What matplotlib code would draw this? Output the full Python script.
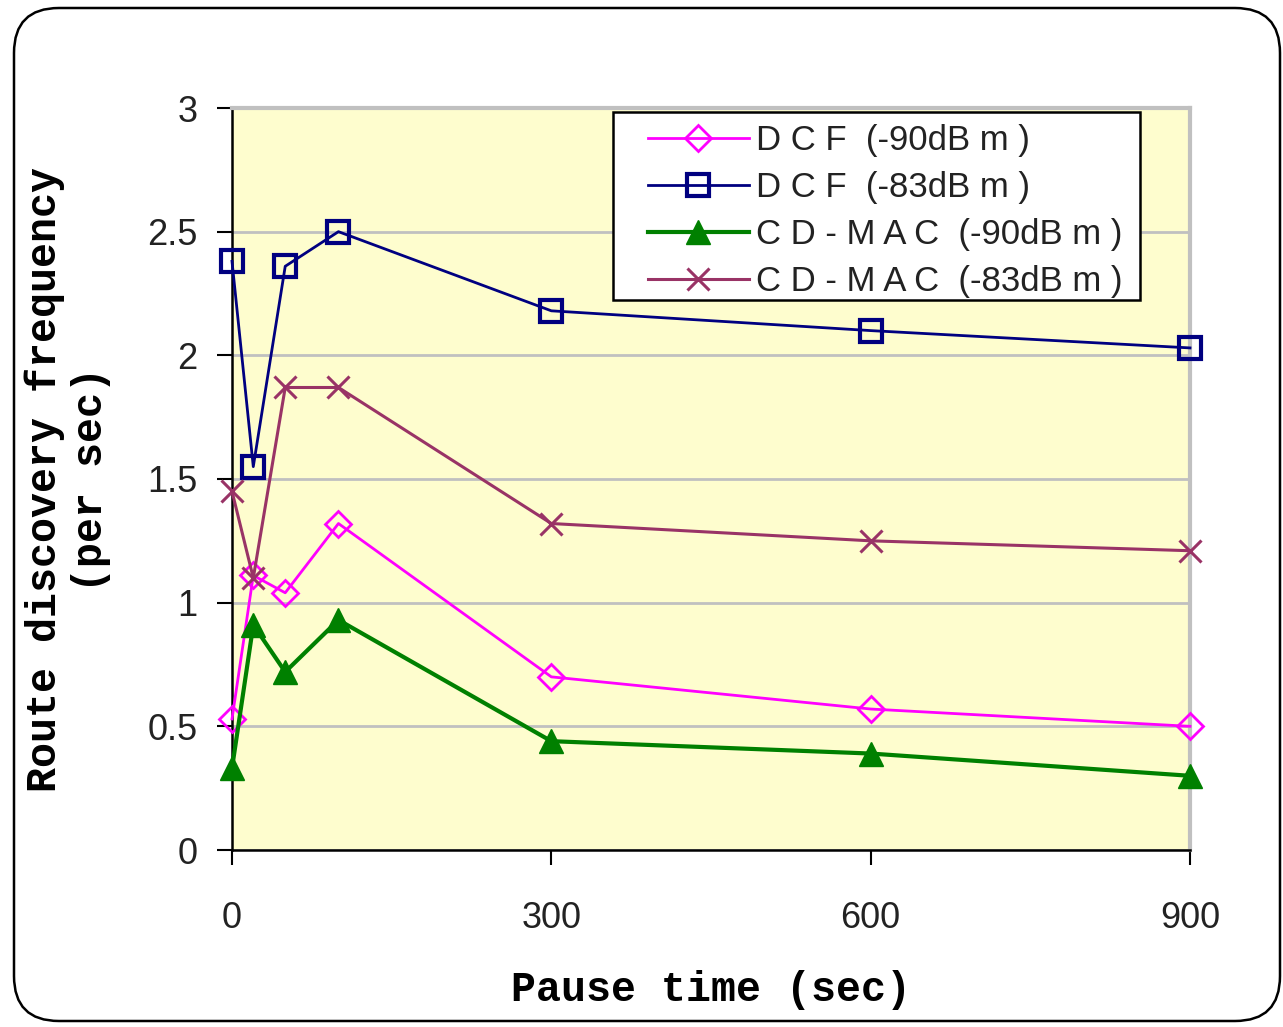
import matplotlib.pyplot as plt
from matplotlib.patches import FancyBboxPatch, Rectangle

# pause time (sec) and route discovery frequency (per sec)
pause = [0, 20, 50, 100, 300, 600, 900]
dcf_90 = [0.53, 1.11, 1.04, 1.32, 0.70, 0.57, 0.50]
dcf_83 = [2.38, 1.55, 2.36, 2.50, 2.18, 2.10, 2.03]
cdmac_90 = [0.33, 0.91, 0.72, 0.93, 0.44, 0.39, 0.30]
cdmac_83 = [1.45, 1.10, 1.87, 1.87, 1.32, 1.25, 1.21]

labels = ['D C F  (-90dB m )', 'D C F  (-83dB m )',
          'C D - M A C  (-90dB m )', 'C D - M A C  (-83dB m )']
x_ticks = [0, 300, 600, 900]
y_ticks = [0, 0.5, 1, 1.5, 2, 2.5, 3]
y_tick_labels = ['0', '0.5', '1', '1.5', '2', '2.5', '3']

fig = plt.figure(figsize=(12.83, 10.27), dpi=100)
fig.patch.set_facecolor('white')

# rounded outer frame
frame = FancyBboxPatch((14, 6), 1266, 1013, boxstyle='round,pad=0,rounding_size=45',
                       transform=None, facecolor='none', edgecolor='black', linewidth=1.8,
                       zorder=0)
fig.patches.append(frame)

ax = fig.add_axes([232 / 1283, 1 - 850 / 1027, (1190 - 232) / 1283, (850 - 108) / 1027])
ax.set_facecolor('#FEFDCE')

ax.plot(pause, dcf_90, color='#FF00FF', lw=2, marker='D', ms=13, mfc='none', mec='#FF00FF',
        mew=2, label=labels[0], clip_on=False, zorder=5)
ax.plot(pause, dcf_83, color='#000080', lw=2, marker='s', ms=16, mfc='none', mec='#000080',
        mew=3, label=labels[1], clip_on=False, zorder=5)
ax.plot(pause, cdmac_90, color='#008000', lw=3, marker='^', ms=17, mfc='#008000', mec='#008000',
        label=labels[2], clip_on=False, zorder=5)
ax.plot(pause, cdmac_83, color='#993366', lw=2.2, marker='x', ms=16, mew=2.2,
        label=labels[3], clip_on=False, zorder=5)

ax.set_xlim(0, 900)
ax.set_ylim(0, 3)
ax.set_xticks(x_ticks)
ax.set_xticklabels([str(t) for t in x_ticks], fontsize=26, family='Liberation Sans')
ax.set_yticks(y_ticks)
ax.set_yticklabels(y_tick_labels, fontsize=26, family='Liberation Sans')
ax.tick_params(axis='both', direction='out', length=11, width=1.5, colors='black')
ax.tick_params(axis='x', pad=26, labelcolor='#222222')
ax.tick_params(axis='y', pad=14, labelcolor='#222222')
ax.grid(axis='y', color='#C0C0C0', lw=2)
ax.set_axisbelow(True)

for s in ['top', 'right']:
    ax.spines[s].set_color('#C0C0C0')
    ax.spines[s].set_linewidth(3)
for s in ['left', 'bottom']:
    ax.spines[s].set_color('black')
    ax.spines[s].set_linewidth(1.8)

ax.set_xlabel('Pause time (sec)', fontsize=30, family='Liberation Mono', fontweight='bold',
              labelpad=24)
ax.set_ylabel('Route discovery frequency\n(per sec)', fontsize=30, family='Liberation Mono',
              fontweight='bold', labelpad=26, linespacing=1.2)

# legend box
box = Rectangle((613, 1027 - 300), 527, 188, transform=None, facecolor='white',
                edgecolor='black', linewidth=1.8, clip_on=False, zorder=6)
ax.add_patch(box)

leg = ax.legend(loc='upper left', bbox_to_anchor=(648 / 1283, 1 - 124 / 1027),
                bbox_transform=fig.transFigure, frameon=False,
                prop={'family': 'Liberation Sans', 'size': 25},
                handlelength=2.9, handletextpad=0.2, borderpad=0, labelspacing=0.4,
                borderaxespad=0)
leg.set_zorder(7)
for t in leg.get_texts():
    t.set_color('#222222')

fig.savefig('out.png', dpi=100)
